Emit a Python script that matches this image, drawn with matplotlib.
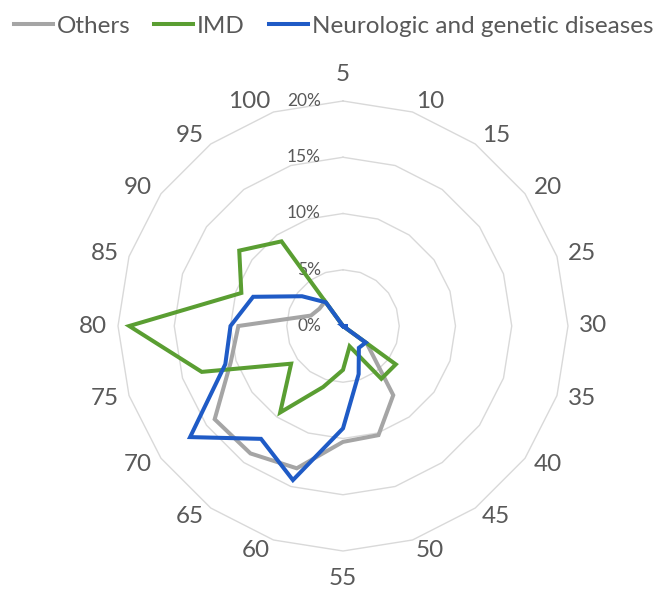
import numpy as np
import matplotlib
matplotlib.use("Agg")
import matplotlib.pyplot as plt
from matplotlib import transforms

plt.rcParams['font.family'] = ['Lato', 'DejaVu Sans']

categories = ['5', '10', '15', '20', '25', '30', '35', '40', '45', '50',
              '55', '60', '65', '70', '75', '80', '85', '90', '95', '100']
others = [0, 0, 0, 0, 0, 0, 0, 2.6, 7.6, 10.2, 10.3, 13.3, 14.0, 14.1, 10.5,
          9.3, 3.0, 2.6, 2.7, 0]
imd = [0, 0, 0, 0, 0, 0, 0, 5.8, 5.8, 1.9, 3.9, 5.7, 9.5, 5.7, 13.2,
       19.0, 9.5, 11.4, 9.3, 0]
neuro = [0, 0, 0, 0, 0, 0.4, 0, 2.5, 2.4, 4.5, 9.1, 14.4, 12.4, 16.8, 11.0,
         10.0, 8.4, 4.5, 2.6, 0]
series_names = ['Others', 'IMD', 'Neurologic and genetic diseases']
series_colors = ['#A5A5A5', '#5A9E32', '#1F5BC6']
ring_levels = [5, 10, 15, 20]
ring_labels = ['0%', '5%', '10%', '15%', '20%']
ring_label_values = [0, 5, 10, 15, 20]

W, H = 664, 589
fig = plt.figure(figsize=(W / 100, H / 100), dpi=100)
cx, cy, R = 343, 326, 225
ax = fig.add_axes([(cx - R) / W, 1 - (cy + R) / H, 2 * R / W, 2 * R / H],
                  projection='polar')
ax.set_theta_zero_location('N')
ax.set_theta_direction(-1)
ax.set_ylim(0, 20)
ax.set_xticks([])
ax.set_yticks([])
ax.grid(False)
ax.spines['polar'].set_visible(False)
ax.set_facecolor('none')

n = len(categories)
theta = np.arange(n) * 2 * np.pi / n
theta_c = np.append(theta, theta[0])

for lv in ring_levels:
    ax.plot(theta_c, [lv] * (n + 1), color='#D9D9D9', lw=1.0, zorder=1,
            clip_on=False)

handles = []
for vals, name, col in zip([others, imd, neuro], series_names, series_colors):
    v = np.append(vals, vals[0])
    h, = ax.plot(theta_c, v, color=col, lw=2.9, zorder=3, label=name,
                 solid_joinstyle='miter', clip_on=False)
    handles.append(h)

txt_col = '#595959'
for t, lab in zip(theta, categories):
    deg = np.degrees(t) % 360
    r_lab = 20 * 236 / R
    if np.isclose(deg, 0):
        ha, va = 'center', 'bottom'
        r_lab = 20 * 241 / R
    elif np.isclose(deg, 180):
        ha, va = 'center', 'top'
        r_lab = 20 * 242 / R
    elif deg < 180:
        ha, va = 'left', 'center'
    else:
        ha, va = 'right', 'center'
    ax.text(t, r_lab, lab, ha=ha, va=va, fontsize=17.5, color=txt_col,
            clip_on=False)

trans = transforms.offset_copy(ax.transData, fig=fig, x=-22, y=0, units='dots')
for v, lab in zip(ring_label_values, ring_labels):
    ax.text(0, v, lab, transform=trans, ha='right', va='center',
            fontsize=12.5, color=txt_col, zorder=2)

fig.legend(handles, series_names, loc='center',
           bbox_to_anchor=(333.5 / W, 1 - 26 / H), ncol=3, frameon=False,
           fontsize=17.5, handlelength=1.6, handletextpad=0.15,
           columnspacing=1.0, labelcolor=txt_col)

fig.savefig('out.png', dpi=100)
